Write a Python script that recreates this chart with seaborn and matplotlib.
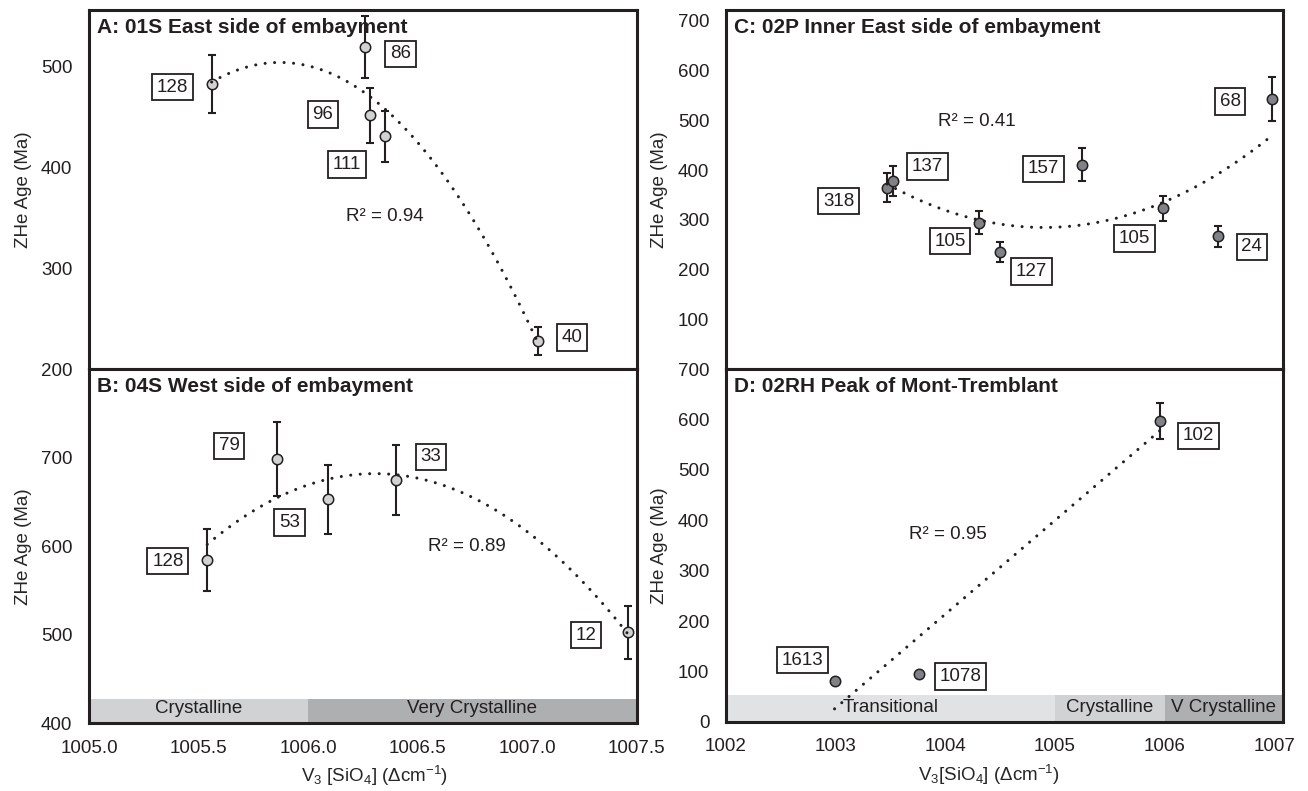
import numpy as np
import pandas as pd
import matplotlib
matplotlib.use("Agg")
import matplotlib.pyplot as plt
import seaborn as sns

# ---------------- data ----------------
A_ID = ["128", "86", "96", "111", "40"]
A_X = [1005.56, 1006.26, 1006.285, 1006.35, 1007.05]
A_Y = [483, 520, 452, 431, 228]
A_ERR = [29, 31, 27, 25, 14]

B_ID = ["128", "79", "53", "33", "12"]
B_X = [1005.54, 1005.86, 1006.09, 1006.40, 1007.46]
B_Y = [585, 699, 653, 675, 503]
B_ERR = [35, 42, 39, 40, 30]

C_ID = ["318", "137", "105", "127", "157", "105", "24", "68"]
C_X = [1003.47, 1003.52, 1004.31, 1004.50, 1005.25, 1005.99, 1006.49, 1006.98]
C_Y = [365, 379, 294, 235, 411, 323, 267, 543]
C_ERR = [29, 30, 23, 20, 33, 26, 21, 44]

D_ID = ["1613", "1078", "102"]
D_X = [1002.99, 1003.76, 1005.96]
D_Y = [81, 94, 598]
D_ERR = [0, 0, 36]

TITLES = ["A: 01S East side of embayment", "B: 04S West side of embayment",
          "C: 02P Inner East side of embayment", "D: 02RH Peak of Mont-Tremblant"]
R2_TEXT = ["R\u00b2 = 0.94", "R\u00b2 = 0.89", "R\u00b2 = 0.41", "R\u00b2 = 0.95"]
FIT_ORDER = [2, 2, 2, 1]

B_BAND_NAMES = ["Crystalline", "Very Crystalline"]
B_BAND_EDGES = [1005.0, 1006.0, 1007.5]
D_BAND_NAMES = ["Transitional", "Crystalline", "V Crystalline"]
D_BAND_EDGES = [1002.0, 1005.0, 1006.0, 1007.08]

LEFT_XTICKS = [1005.0, 1005.5, 1006.0, 1006.5, 1007.0, 1007.5]
LEFT_XTICKLABELS = ["1005.0", "1005.5", "1006.0", "1006.5", "1007.0", "1007.5"]
RIGHT_XTICKS = [1002, 1003, 1004, 1005, 1006, 1007]
RIGHT_XTICKLABELS = ["1002", "1003", "1004", "1005", "1006", "1007"]
A_YTICKS = [200, 300, 400, 500]
B_YTICKS = [400, 500, 600, 700]
C_YTICKS = [100, 200, 300, 400, 500, 600, 700]
D_YTICKS = [0, 100, 200, 300, 400, 500, 600, 700]

# ---------------- style ----------------
sns.set_style("white")
plt.rcParams["font.family"] = ["Liberation Sans", "DejaVu Sans"]
plt.rcParams["mathtext.default"] = "regular"
INK = "#231f20"
FS = 13.5
plt.rcParams["text.color"] = INK

W, H = 1308, 791
fig = plt.figure(figsize=(W / 100, H / 100), dpi=100)


def px_axes(l, r, t, b):
    return fig.add_axes([l / W, 1 - b / H, (r - l) / W, (b - t) / H])


axA = px_axes(89, 636.5, 10, 369.3)
axB = px_axes(89, 636.5, 369.3, 723.3)
axC = px_axes(726, 1283, 10, 369.3)
axD = px_axes(726, 1283, 369.3, 721.7)

# label positions (axes fraction)
LAB_POS = {
    "A": [(0.152, 0.785), (0.569, 0.878), (0.427, 0.709), (0.471, 0.570), (0.882, 0.088)],
    "B": [(0.144, 0.458), (0.256, 0.784), (0.366, 0.567), (0.625, 0.753), (0.908, 0.249)],
    "C": [(0.202, 0.468), (0.362, 0.564), (0.402, 0.357), (0.548, 0.272), (0.570, 0.558),
          (0.733, 0.364), (0.944, 0.341), (0.905, 0.745)],
    "D": [(0.138, 0.175), (0.421, 0.128), (0.848, 0.811)],
}
R2_POS = {"A": (0.541, 0.426), "B": (0.691, 0.499), "C": (0.450, 0.689), "D": (0.398, 0.532)}

panels = [
    ("A", axA, A_X, A_Y, A_ERR, A_ID, "#d1d2d4", (1005.0, 1007.5), (200, 556.5), A_YTICKS, LEFT_XTICKS),
    ("B", axB, B_X, B_Y, B_ERR, B_ID, "#d1d2d4", (1005.0, 1007.5), (400, 800), B_YTICKS, LEFT_XTICKS),
    ("C", axC, C_X, C_Y, C_ERR, C_ID, "#808285", (1002.0, 1007.08), (0, 721.5), C_YTICKS, RIGHT_XTICKS),
    ("D", axD, D_X, D_Y, D_ERR, D_ID, "#808285", (1002.0, 1007.08), (0, 700), D_YTICKS, RIGHT_XTICKS),
]

for i, (key, ax, xs, ys, errs, ids, fc, xlim, ylim, yt, xt) in enumerate(panels):
    df = pd.DataFrame({"x": xs, "y": ys, "err": errs, "id": ids})
    e = df[df["err"] > 0]
    ax.errorbar(e["x"], e["y"], yerr=e["err"], fmt="none", ecolor=INK,
                elinewidth=1.5, capsize=3, capthick=1.5, zorder=2)
    sns.scatterplot(data=df, x="x", y="y", ax=ax, s=56, color=fc,
                    edgecolor=INK, linewidth=1.1, zorder=3, legend=False)
    sns.regplot(data=df, x="x", y="y", ax=ax, order=FIT_ORDER[i], ci=None,
                scatter=False, truncate=True,
                line_kws=dict(color=INK, lw=2.2, linestyle=(0, (0.01, 3.1)),
                              dash_capstyle="round", zorder=4))
    for (lx, ly), t in zip(LAB_POS[key], ids):
        ax.text(lx, ly, t, transform=ax.transAxes, ha="center", va="center",
                fontsize=FS, zorder=6,
                bbox=dict(boxstyle="square,pad=0.25", fc="white", ec=INK, lw=1.3))
    ax.text(R2_POS[key][0], R2_POS[key][1], R2_TEXT[i], transform=ax.transAxes,
            ha="center", va="center", fontsize=FS)
    ax.text(0.014, 1 - 17 / 355, TITLES[i], transform=ax.transAxes, ha="left",
            va="center", fontsize=15, fontweight="bold")
    ax.set_xlim(*xlim)
    ax.set_ylim(*ylim)
    ax.set_yticks(yt)
    ax.set_xticks(xt)
    ax.set_xlabel("")
    ax.set_ylabel("ZHe Age (Ma)", fontsize=FS, va="center")
    ax.yaxis.set_label_coords(-0.12, 0.5)
    ax.tick_params(direction="in", length=5, width=1.5, color=INK,
                   labelsize=FS, labelcolor=INK)
    ax.tick_params(axis="y", pad=12)
    ax.tick_params(axis="x", pad=12)
    for sp in ax.spines.values():
        sp.set_color(INK)
        sp.set_linewidth(2.2)
        sp.set_visible(True)

axA.set_xticklabels([])
axC.set_xticklabels([])
axB.set_xticklabels(LEFT_XTICKLABELS)
axD.set_xticklabels(RIGHT_XTICKLABELS)

# bands
B_COLORS = ["#d1d2d4", "#aeafb1"]
for j, name in enumerate(B_BAND_NAMES):
    x0, x1 = B_BAND_EDGES[j], B_BAND_EDGES[j + 1]
    axB.axvspan(x0, x1, ymin=0, ymax=24.5 / 354, color=B_COLORS[j], lw=0, zorder=0.5)
    axB.text((x0 + x1) / 2, 0.042, name, transform=axB.get_xaxis_transform(),
             ha="center", va="center", fontsize=FS)
D_COLORS = ["#e1e2e3", "#d1d2d4", "#aeafb1"]
for j, name in enumerate(D_BAND_NAMES):
    x0, x1 = D_BAND_EDGES[j], D_BAND_EDGES[j + 1]
    axD.axvspan(x0, x1, ymin=0, ymax=26.7 / 352.4, color=D_COLORS[j], lw=0, zorder=0.5)
    axD.text((x0 + x1) / 2, 0.041, name, transform=axD.get_xaxis_transform(),
             ha="center", va="center", fontsize=FS)

axB.set_xlabel("V$_3$ [SiO$_4$] ($\\Delta$cm$^{-1}$)", fontsize=FS, va="center")
axB.xaxis.set_label_coords(0.522, -0.150)
axD.set_xlabel("V$_3$[SiO$_4$] ($\\Delta$cm$^{-1}$)", fontsize=FS, va="center")
axD.xaxis.set_label_coords(0.472, -0.151)

fig.savefig("out.png", dpi=100)
